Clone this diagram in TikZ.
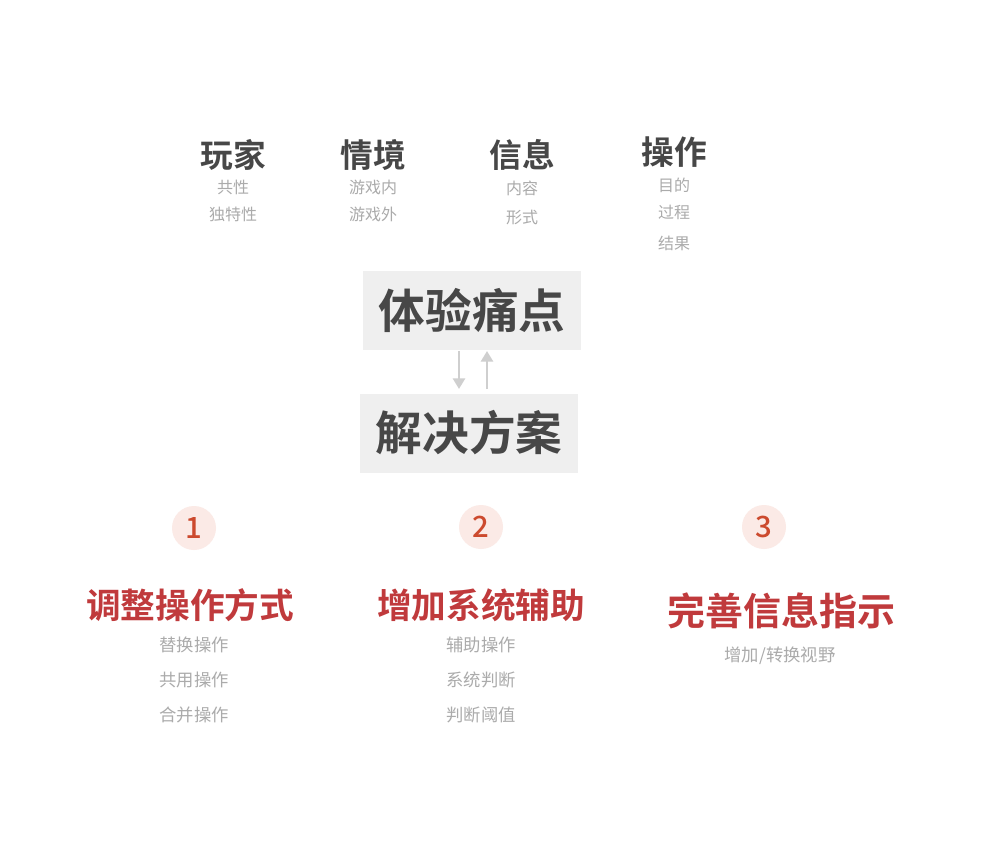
\documentclass[tikz,border=0pt]{standalone}
\usepackage{fontspec}
\setmainfont{Noto Sans CJK SC}
\newfontfamily\cjk{Noto Sans CJK SC}
\newfontfamily\cjkb{Noto Sans CJK SC Bold}
\newfontfamily\cjkm{Noto Sans CJK SC Medium}
\usetikzlibrary{arrows.meta}
\definecolor{headgray}{HTML}{474747}
\definecolor{subgray}{HTML}{ABABAB}
\definecolor{boxgray}{HTML}{EFEFEF}
\definecolor{arrgray}{HTML}{CFCFCF}
\definecolor{titlered}{HTML}{C03A3C}
\definecolor{numred}{HTML}{CC4A2E}
\definecolor{circpink}{HTML}{FBEAE6}
\begin{document}
\begin{tikzpicture}[x=0.75pt,y=-0.75pt,
  head/.style={font=\cjkb\fontsize{24.5}{28}\selectfont,text=headgray,inner sep=0pt},
  sub/.style={font=\cjk\fontsize{12}{14}\selectfont,text=subgray,inner sep=0pt},
  bigbox/.style={fill=boxgray,minimum width=218*0.75pt,minimum height=79*0.75pt,inner sep=0pt,text=headgray,font=\cjkb\fontsize{35}{40}\selectfont},
  arr/.style={draw=arrgray,line width=2.2pt,-{Triangle[width=9pt,length=8pt]}},
  numc/.style={circle,fill=circpink,minimum size=44*0.75pt,inner sep=0pt,text=numred,font=\cjkm\fontsize{22}{24}\selectfont},
  ttl/.style={font=\cjkb\fontsize{26}{30}\selectfont,text=titlered,inner sep=0pt},
  subs/.style={font=\cjk\fontsize{13}{15}\selectfont,text=subgray,inner sep=0pt}]
\useasboundingbox[fill=white] (0,0) rectangle (1000,854);
% top categories
\node[head] (h1) at (233,155) {玩家};
\node[sub] (h1a) at (233,187) {共性};
\node[sub] (h1b) at (233,214) {独特性};
\node[head] (h2) at (373,155) {情境};
\node[sub] (h2a) at (373,187) {游戏内};
\node[sub] (h2b) at (373,214) {游戏外};
\node[head] (h3) at (522,155) {信息};
\node[sub] (h3a) at (522,188) {内容};
\node[sub] (h3b) at (522,217) {形式};
\node[head] (h4) at (674,152) {操作};
\node[sub] (h4a) at (674,185) {目的};
\node[sub] (h4b) at (674,212) {过程};
\node[sub] (h4c) at (674,243) {结果};
% central boxes
\node[bigbox] (pain) at (472,310) {体验痛点};
\node[bigbox] (sol) at (469,433) {解决方案};
\coordinate (d1) at (459,351);
\coordinate (d2) at (459,389);
\coordinate (u1) at (487,389);
\coordinate (u2) at (487,351);
\draw[arr] (d1) -- (d2);
\draw[arr] (u1) -- (u2);
% solutions
\node[numc] (n1) at (194,528) {1};
\node[numc] (n2) at (481,527) {2};
\node[numc] (n3) at (764,527) {3};
\node[ttl] (t1) at (190,605) {调整操作方式};
\node[ttl] (t2) at (481,605) {增加系统辅助};
\node[ttl,font=\cjkb\fontsize{28.5}{32}\selectfont] (t3) at (781,611) {完善信息指示};
\node[subs] (s1a) at (194,645) {替换操作};
\node[subs] (s1b) at (194,680) {共用操作};
\node[subs] (s1c) at (194,715) {合并操作};
\node[subs] (s2a) at (481,645) {辅助操作};
\node[subs] (s2b) at (481,680) {系统判断};
\node[subs] (s2c) at (481,715) {判断阈值};
\node[subs] (s3a) at (780,656) {增加/转换视野};
\end{tikzpicture}
\end{document}
